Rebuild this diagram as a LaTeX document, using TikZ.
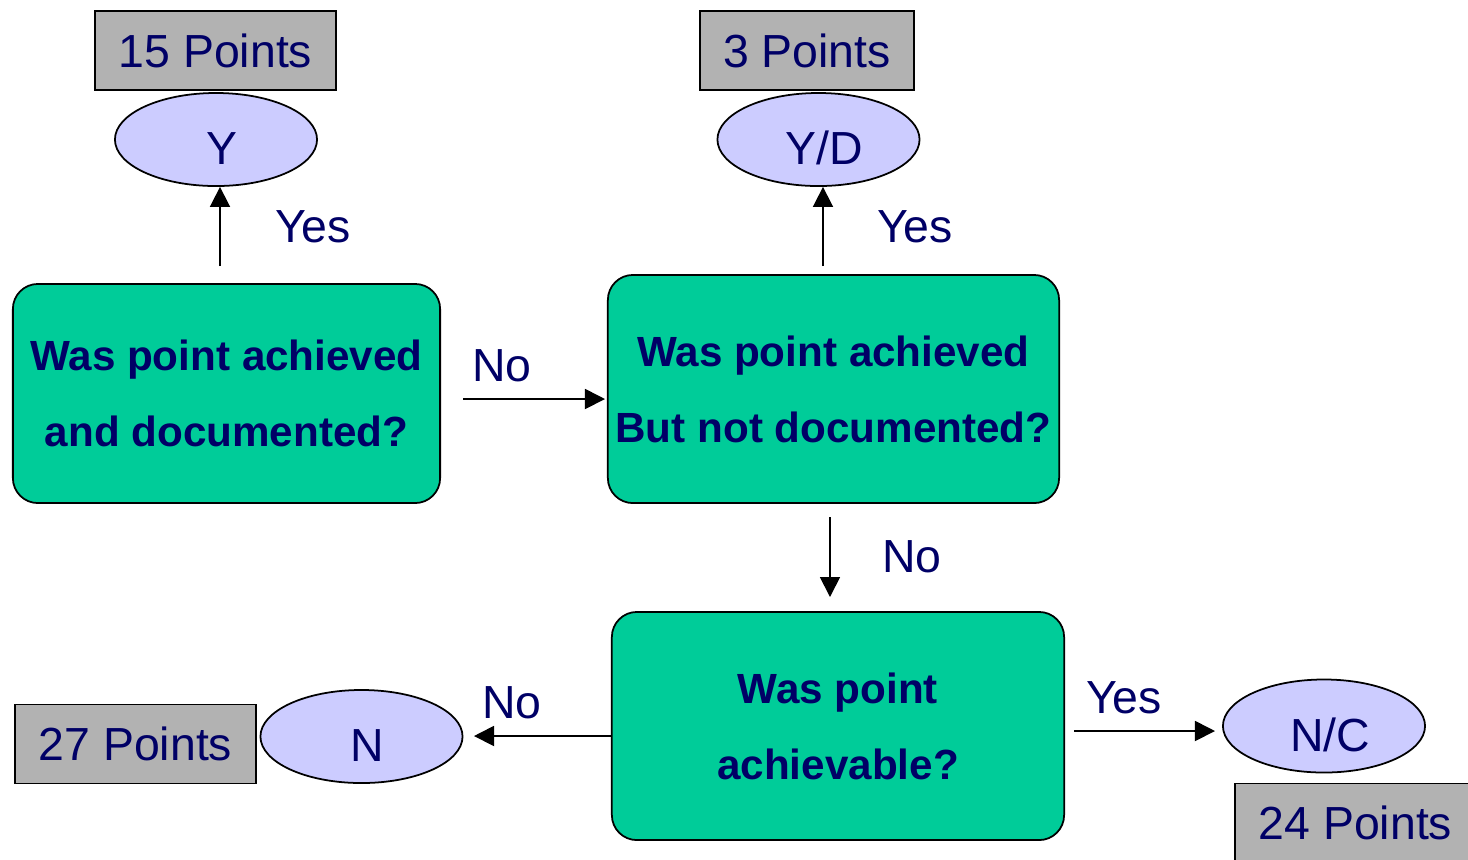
\documentclass[tikz,border=0pt]{standalone}
\usepackage{fontspec}
\setmainfont{Liberation Sans}
\usetikzlibrary{arrows.meta,shapes.geometric}

\definecolor{navy}{RGB}{0,0,102}
\definecolor{boxgreen}{RGB}{0,204,153}
\definecolor{pointgray}{RGB}{178,178,178}
\definecolor{ovalblue}{RGB}{204,204,255}

\begin{document}
\begin{tikzpicture}[x=0.01cm,y=-0.01cm,
    arr/.style={-{Triangle[length=0.2cm,width=0.2cm]}, line width=0.5pt}]

        \useasboundingbox (0,0) rectangle (1468,859);
        \clip (0,0) rectangle (1468,859);

        % score boxes
        \begin{scope}[every node/.style={draw, line width=0.5pt, fill=pointgray, text=navy,
            minimum width=2.41cm, minimum height=0.79cm, inner sep=0pt,
            font=\fontsize{13.2}{16}\selectfont}]
          \node (p15) at (215.5,50.5) {15 Points};
          \node[minimum width=2.14cm] (p3) at (807,50.5) {3 Points};
          \node (p27) at (135.5,744)  {27 Points};
          \node (p24) at (1355.5,823) {24 Points};
        \end{scope}

        % answers
        \begin{scope}[every node/.style={ellipse, draw, line width=0.5pt, fill=ovalblue, text=navy,
            minimum width=2.02cm, minimum height=0.93cm, inner sep=0pt,
            text height=0.5cm, text depth=0pt, font=\fontsize{13.2}{16}\selectfont,
            execute at begin node=\hspace{0.12cm}}]
          \node (y)  at (216,139.5)   {Y};
          \node (yd) at (818.5,139.5) {Y/D};
          \node (n)  at (361.5,736.5) {N};
          \node (nc) at (1324,726)    {N/C};
        \end{scope}

        % questions
        \begin{scope}[every node/.style={draw, line width=0.5pt, fill=boxgreen, rounded corners=0.25cm,
            text=navy, align=center, inner sep=0pt,
            font=\bfseries\fontsize{12}{21.6}\selectfont}]
          \node[minimum width=4.27cm, minimum height=2.19cm] (q1) at (226.5,393.5) {Was point achieved\\and documented?};
          \node[minimum width=4.51cm, minimum height=2.28cm] (q2) at (833.5,389)   {Was point achieved\\But not documented?};
          \node[minimum width=4.52cm, minimum height=2.28cm] (q3) at (838,726)     {Was point\\achievable?};
        \end{scope}

        \coordinate (a1) at (220,266);
        \coordinate (a2) at (823,266);
        \coordinate (b1) at (463,399);
        \coordinate (b2) at (605,399);
        \coordinate (c1) at (830,517);
        \coordinate (c2) at (830,597);
        \coordinate (d2) at (474,736);
        \coordinate (e1) at (1074,731);
        \coordinate (e2) at (1215,731);

        \begin{scope}[every edge/.style={draw, arr}]
          \path (a1) edge (a1 |- y.south);
          \path (a2) edge (a2 |- yd.south);
          \path (b1) edge (b2);
          \path (c1) edge (c2);
          \path (q3.west |- d2) edge (d2);
          \path (e1) edge (e2);
        \end{scope}

        % arrow labels
        \begin{scope}[every node/.style={text=navy, inner sep=0pt, font=\fontsize{13.2}{16}\selectfont}]
          \node (yes1) at (313,227)  {Yes};
          \node (yes2) at (915,227)  {Yes};
          \node (no1)  at (502,366)  {No};
          \node (no2)  at (912,557)  {No};
          \node (no3)  at (512,703)  {No};
          \node (yes3) at (1124,698) {Yes};
        \end{scope}

      \end{tikzpicture}
\end{document}
